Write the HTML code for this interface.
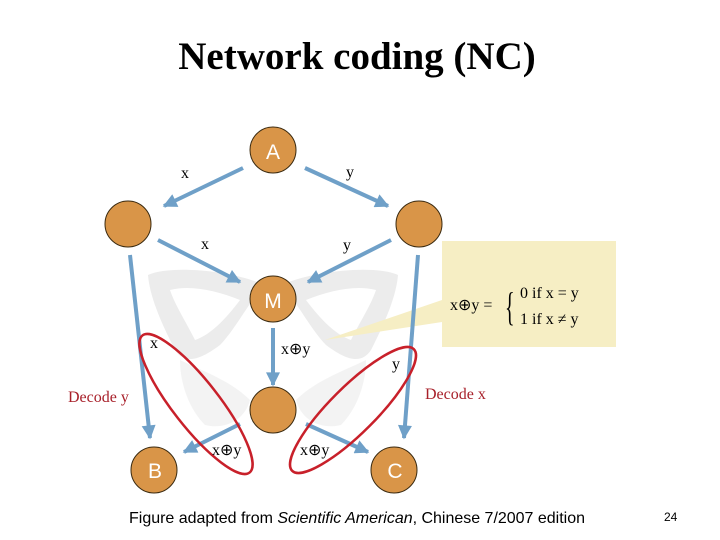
<!DOCTYPE html>
<html><head><meta charset="utf-8"><style>
body{margin:0;width:720px;height:540px;background:#fff;overflow:hidden;position:relative}
</style></head><body>
<svg width="720" height="540" viewBox="0 0 720 540" xmlns="http://www.w3.org/2000/svg" style="position:absolute;left:0;top:0">
<defs>
<marker id="ah2" viewBox="0 0 10 10" refX="9" refY="5" markerWidth="16" markerHeight="14" orient="auto" markerUnits="userSpaceOnUse"><path d="M0,0 L10,5 L0,10 Z" fill="#6fa0c8"/></marker>
</defs>
<text x="357" y="69" text-anchor="middle" font-family="Liberation Serif" font-weight="bold" font-size="39">Network coding (NC)</text>
<!-- faint butterfly -->
<g fill="#e4e4e4" opacity="0.7">
<path d="M148,275 C170,265 230,270 265,285 C250,300 235,330 220,345 C200,360 185,365 175,350 C165,330 150,300 148,275Z"/>
<path d="M398,275 C376,265 316,270 281,285 C296,300 311,330 326,345 C346,360 361,365 371,350 C381,330 396,300 398,275Z"/>
<path d="M180,360 C200,370 230,380 250,400 C245,420 225,430 205,425 C190,410 180,385 180,360Z" opacity="0.6"/>
<path d="M366,360 C346,370 316,380 296,400 C301,420 321,430 341,425 C356,410 366,385 366,360Z" opacity="0.6"/>
</g>
<g fill="#fff"><path d="M170,290 C190,285 215,290 240,300 C225,320 210,335 195,340 C185,320 175,305 170,290Z"/>
<path d="M376,290 C356,285 331,290 306,300 C321,320 336,335 351,340 C361,320 371,305 376,290Z"/></g>
<!-- yellow box -->
<polygon points="442,300 442,322 325,340" fill="#f6eec4"/>
<rect x="442" y="241" width="174" height="106" fill="#f6eec4"/>
<text x="450" y="310" font-family="Liberation Serif" font-size="16">x⊕y =</text>
<text x="505" y="320" font-family="Liberation Serif" font-size="40" font-weight="100" fill="#000" transform="translate(505 320) scale(0.5 1) translate(-505 -320)">{</text>
<text x="520" y="298" font-family="Liberation Serif" font-size="16">0  if x = y</text>
<text x="520" y="324" font-family="Liberation Serif" font-size="16">1  if x ≠ y</text>
<!-- arrows -->
<g stroke="#6fa0c8" stroke-width="4" fill="none" marker-end="url(#ah2)">
<line x1="243" y1="168" x2="164" y2="206"/>
<line x1="305" y1="168" x2="388" y2="206"/>
<line x1="158" y1="240" x2="240" y2="282"/>
<line x1="391" y1="240" x2="308" y2="282"/>
<line x1="130" y1="255" x2="150" y2="438"/>
<line x1="418" y1="255" x2="404" y2="438"/>
<line x1="273" y1="328" x2="273" y2="385"/>
<line x1="240" y1="424" x2="184" y2="452"/>
<line x1="306" y1="424" x2="368" y2="452"/>
</g>
<!-- nodes -->
<g fill="#d99548" stroke="#3a2a10" stroke-width="1">
<circle cx="273" cy="150" r="23"/>
<circle cx="128" cy="224" r="23"/>
<circle cx="419" cy="224" r="23"/>
<circle cx="273" cy="299" r="23"/>
<circle cx="273" cy="410" r="23"/>
<circle cx="154" cy="470" r="23"/>
<circle cx="394" cy="470" r="23"/>
</g>
<g fill="#fff" font-family="Liberation Sans" font-size="21" text-anchor="middle">
<text x="273" y="308">M</text><text x="273" y="159">A</text>
<text x="155" y="478">B</text><text x="395" y="478">C</text>
</g>
<!-- ellipses -->
<ellipse cx="196" cy="404" rx="87" ry="23" transform="rotate(52 196 404)" fill="none" stroke="#c8202a" stroke-width="2.5"/>
<ellipse cx="353" cy="410" rx="86" ry="23" transform="rotate(-45 353 410)" fill="none" stroke="#c8202a" stroke-width="2.5"/>
<!-- labels -->
<g font-family="Liberation Serif" font-size="16" fill="#000">
<text x="181" y="178">x</text><text x="346" y="177">y</text>
<text x="201" y="249">x</text><text x="343" y="250">y</text>
<text x="150" y="348">x</text><text x="392" y="369">y</text>
<text x="281" y="354">x⊕y</text>
<text x="212" y="455">x⊕y</text><text x="300" y="455">x⊕y</text>
</g>
<g font-family="Liberation Serif" font-size="16" fill="#a8202a">
<text x="68" y="402">Decode y</text><text x="425" y="399">Decode x</text>
</g>
<text x="129" y="523" font-family="Liberation Sans" font-size="16" fill="#000" textLength="456">Figure adapted from <tspan font-style="italic">Scientific American</tspan>, Chinese 7/2007 edition</text>
<text x="664" y="521" font-family="Liberation Sans" font-size="12" fill="#000">24</text>
</svg>
</body></html>
